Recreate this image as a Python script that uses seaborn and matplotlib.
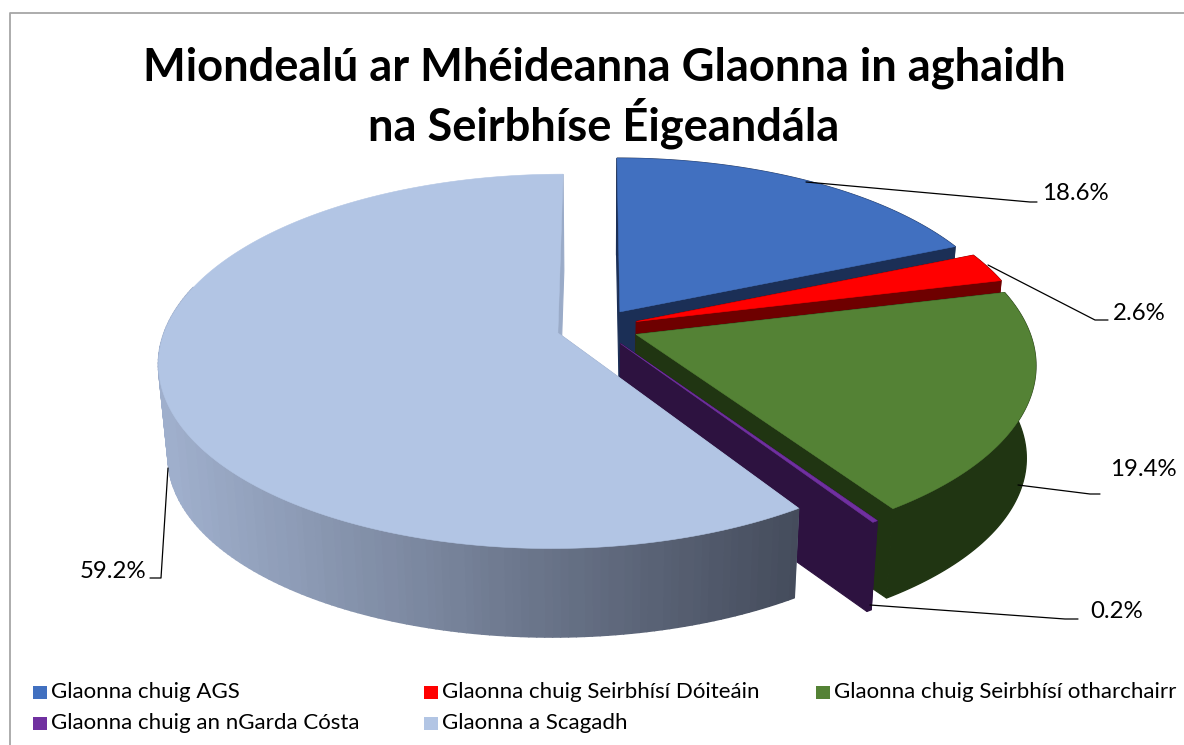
import numpy as np
import seaborn as sns
import matplotlib.pyplot as plt
from matplotlib.collections import PolyCollection
from matplotlib.patches import Polygon, Rectangle

title = "Miondealú ar Mhéideanna Glaonna in aghaidh\nna Seirbhíse Éigeandála"
categories = ["Glaonna chuig AGS", "Glaonna chuig Seirbhísí Dóiteáin",
              "Glaonna chuig Seirbhísí otharchairr", "Glaonna chuig an nGarda Cósta",
              "Glaonna a Scagadh"]
shares = [18.6, 2.6, 19.4, 0.2, 59.2]
top_colors = ["#4170c0", "#ff0000", "#548235", "#7030a0", "#b2c5e4"]
face_colors = ["#1b2f56", "#6e0000", "#203512", "#2d1240", "#9aabc8"]
wall_left = ["#1b2f56", "#6e0000", "#203512", "#2d1240", "#9fafcc"]
wall_right = ["#1b2f56", "#6e0000", "#203512", "#2d1240", "#454c5c"]

# projection of the pie disc, pixels of the 1184x745 picture
CX, CY, RAD, TILT, PERSP = 597.5, 327.5, 392, 0.4623, 0.151
EXPLODE = 0.105
VANISH_Y, DEPTH = 4570, 0.978


def project(u, v, bottom=False):
    w = 1 + PERSP * v
    x = CX + RAD * u / w
    y = CY - RAD * TILT * v / w
    if bottom:
        x = CX + (x - CX) * DEPTH
        y = VANISH_Y + (y - VANISH_Y) * DEPTH
    return np.column_stack([x, y])


def draw_slice(ax, start, end, top, face, left, right):
    mid = (start + end) / 2
    du, dv = EXPLODE * np.sin(mid), EXPLODE * np.cos(mid)
    n = max(int(np.degrees(end - start)), 2) + 1
    th = np.linspace(start, end, n)
    u, v = du + np.sin(th), dv + np.cos(th)
    rim = project(u, v)
    rim_low = project(u, v, bottom=True)
    apex = project(np.array([du]), np.array([dv]))
    apex_low = project(np.array([du]), np.array([dv]), bottom=True)

    for i in (0, -1):
        ax.add_patch(Polygon(np.vstack([apex, rim[i], rim_low[i], apex_low]),
                             fc=face, ec=face, lw=0.8))
    if left == right:
        ax.add_patch(Polygon(np.vstack([rim, rim_low[::-1]]), fc=left, ec=left, lw=1))
    else:
        # back of the rim stays hidden behind the top, only the front is shaded
        front = [i for i in range(n - 1) if np.cos(th[i]) < 0.25]
        quads = [np.vstack([rim[i], rim[i + 1], rim_low[i + 1], rim_low[i]]) for i in front]
        # wall shading runs with screen x
        order = np.clip((rim[front, 0] - 165) / (795 - 165), 0, 1)
        pal = sns.blend_palette([left, right], 64)
        cols = [pal[int(o * 63)] for o in order]
        ax.add_collection(PolyCollection(quads, facecolors=cols, edgecolors=cols, linewidths=1.2))
    ax.add_patch(Polygon(np.vstack([apex, rim]), fc=top, ec=top, lw=0.4))


sns.set_theme(style="white")
plt.rcParams['font.family'] = ['Lato', 'DejaVu Sans']

fig = plt.figure(figsize=(11.84, 7.45), dpi=100)
ax = fig.add_axes([0, 0, 1, 1])
ax.set_xlim(0, 1184)
ax.set_ylim(745, 0)
ax.axis("off")

ax.plot([10, 10, 1184], [745, 13, 13], color="#a6a6a6", lw=1.3)

edges = np.radians(np.concatenate([[0], np.cumsum(shares)]) * 3.6)
for i in range(len(shares)):
    draw_slice(ax, edges[i], edges[i + 1], top_colors[i], face_colors[i], wall_left[i], wall_right[i])

ax.text(604, 98, title, ha="center", va="center", fontsize=32.6, fontweight="bold",
        color="black", linespacing=1.2)

# data labels and their leader lines
label_x = [1042, 1113, 1110, 1090, 146]
label_y = [194, 313, 470, 611, 571]
label_ha = ["left", "left", "left", "left", "right"]
leaders = [([806, 1030, 1037], [182, 202, 202]),
           ([988, 1095, 1108], [265, 320, 320]),
           ([1018, 1090, 1100], [485, 494, 494]),
           ([870, 1065, 1078], [605, 619, 619]),
           ([168, 161, 150], [468, 578, 578])]
for s, x, y, ha, (lx, ly) in zip(shares, label_x, label_y, label_ha, leaders):
    ax.plot(lx, ly, color="black", lw=0.9)
    ax.text(x, y, f"{s:.1f}%", ha=ha, va="center", fontsize=17.3, color="black")

# legend
legend_x = [33, 424, 816, 33, 424]
legend_y = [692, 692, 692, 723, 723]
for name, col, x, y in zip(categories, top_colors, legend_x, legend_y):
    ax.add_patch(Rectangle((x, y - 6.5), 13.5, 13.5, fc=col, ec="none"))
    ax.text(x + 18, y, name, ha="left", va="center", fontsize=16, color="black")

fig.savefig("out.png", dpi=100)
